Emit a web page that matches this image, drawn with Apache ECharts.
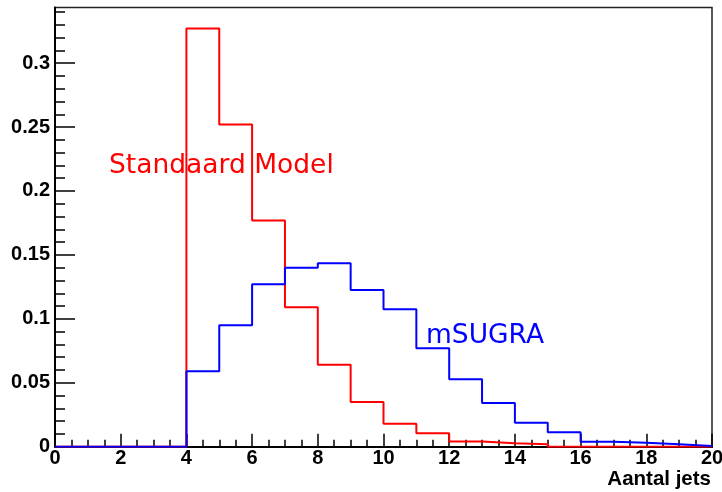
<!DOCTYPE html>
<html>
<head>
<meta charset="utf-8">
<script src="https://cdn.jsdelivr.net/npm/echarts@6/dist/echarts.min.js"></script>
<style>
  html, body { margin: 0; padding: 0; background: #fff; }
  #chart { width: 722px; height: 492px; }
</style>
</head>
<body>
<div id="chart"></div>
<script>
// Jet multiplicity: lower edge of each unit-wide bin
const binEdges = [0, 1, 2, 3, 4, 5, 6, 7, 8, 9, 10, 11, 12, 13, 14, 15, 16, 17, 18, 19];
const binUpper = 20;

// Normalised distributions per bin
const standaardModel = [0, 0, 0, 0, 0.327, 0.252, 0.177, 0.109, 0.064, 0.035, 0.018, 0.0105, 0.004, 0.0027, 0.0019, 0, 0, 0, 0, 0];
const mSUGRA = [0, 0, 0, 0, 0.059, 0.095, 0.127, 0.140, 0.1435, 0.1225, 0.1075, 0.077, 0.0527, 0.0342, 0.0188, 0.0113, 0.0039, 0.0031, 0.0019, 0.0005];

// Axis ticks and labels
const xTicks = [0, 2, 4, 6, 8, 10, 12, 14, 16, 18, 20];
const xTickLabels = ['0', '2', '4', '6', '8', '10', '12', '14', '16', '18', '20'];
const yTicks = [0, 0.05, 0.1, 0.15, 0.2, 0.25, 0.3];
const yTickLabels = ['0', '0.05', '0.1', '0.15', '0.2', '0.25', '0.3'];
const yMinorTicks = [0.01, 0.02, 0.03, 0.04, 0.06, 0.07, 0.08, 0.09, 0.11, 0.12, 0.13, 0.14,
  0.16, 0.17, 0.18, 0.19, 0.21, 0.22, 0.23, 0.24, 0.26, 0.27, 0.28, 0.29, 0.31, 0.32, 0.33, 0.34];
const yMax = 0.3435;

// Histogram outline: one point per bin edge, drawn as a step line
function outline(values) {
  const pts = binEdges.map((e, i) => [e, values[i]]);
  pts.push([binUpper, values[values.length - 1]]);
  return pts;
}

function labelFor(ticks, labels, v) {
  let best = 0;
  for (let i = 1; i < ticks.length; i++) {
    if (Math.abs(ticks[i] - v) < Math.abs(ticks[best] - v)) best = i;
  }
  return labels[best];
}

const axisFont = { fontFamily: '"Liberation Sans", Arial, sans-serif', fontWeight: 'bold', fontSize: 20, color: '#000' };

const chart = echarts.init(document.getElementById('chart'), null, { renderer: 'canvas' });
chart.setOption({
  animation: false,
  backgroundColor: '#fff',
  grid: {
    left: 55, right: 10, top: 7.5, bottom: 45.3,
    outerBoundsMode: 'none', containLabel: false,
    show: true, borderColor: '#222', borderWidth: 1.5, backgroundColor: 'transparent'
  },
  xAxis: {
    type: 'value', min: 0, max: 20, interval: 2,
    axisLine: { show: true, onZero: false, lineStyle: { color: '#000', width: 2 } },
    axisTick: { show: true, inside: true, length: 13, lineStyle: { color: '#000', width: 1.5 } },
    minorTick: { show: true, splitNumber: 4, length: 7, lineStyle: { color: '#000', width: 1.5 } },
    splitLine: { show: false },
    axisLabel: Object.assign({ margin: 2, showMaxLabel: true, showMinLabel: true, hideOverlap: false,
      formatter: v => labelFor(xTicks, xTickLabels, v) }, axisFont)
  },
  yAxis: [
    {
      type: 'value', min: 0, max: yMax, interval: 0.05,
      axisLine: { show: true, lineStyle: { color: '#000', width: 2 } },
      axisTick: { show: true, inside: true, length: 20, customValues: yTicks, lineStyle: { color: '#000', width: 1.5 } },
      splitLine: { show: false },
      axisLabel: Object.assign({ margin: 5, customValues: yTicks,
        formatter: v => labelFor(yTicks, yTickLabels, v) }, axisFont)
    },
    {
      type: 'value', min: 0, max: yMax, interval: 0.05, position: 'left',
      axisLine: { show: false },
      axisTick: { show: true, inside: true, length: 10, customValues: yMinorTicks, lineStyle: { color: '#000', width: 1.5 } },
      splitLine: { show: false },
      axisLabel: { show: false }
    }
  ],
  series: [
    {
      name: 'Standaard Model', type: 'line', step: 'end', showSymbol: false,
      data: outline(standaardModel),
      lineStyle: { color: '#ff0000', width: 2 }, z: 3
    },
    {
      name: 'mSUGRA', type: 'line', step: 'end', showSymbol: false,
      data: outline(mSUGRA),
      lineStyle: { color: '#0000ff', width: 2 }, z: 4
    }
  ],
  graphic: [
    { type: 'text', left: 109, top: 153, z: 10,
      style: { text: 'Standaard Model', fill: '#ff0000', font: '26.5px "DejaVu Sans", sans-serif' } },
    { type: 'text', left: 426, top: 323, z: 10,
      style: { text: 'mSUGRA', fill: '#0000ff', font: '26.5px "DejaVu Sans", sans-serif' } },
    { type: 'text', right: 11, top: 469, z: 10,
      style: { text: 'Aantal jets', fill: '#000', font: 'bold 20.5px "Liberation Sans", Arial, sans-serif' } }
  ]
});
</script>
</body>
</html>
